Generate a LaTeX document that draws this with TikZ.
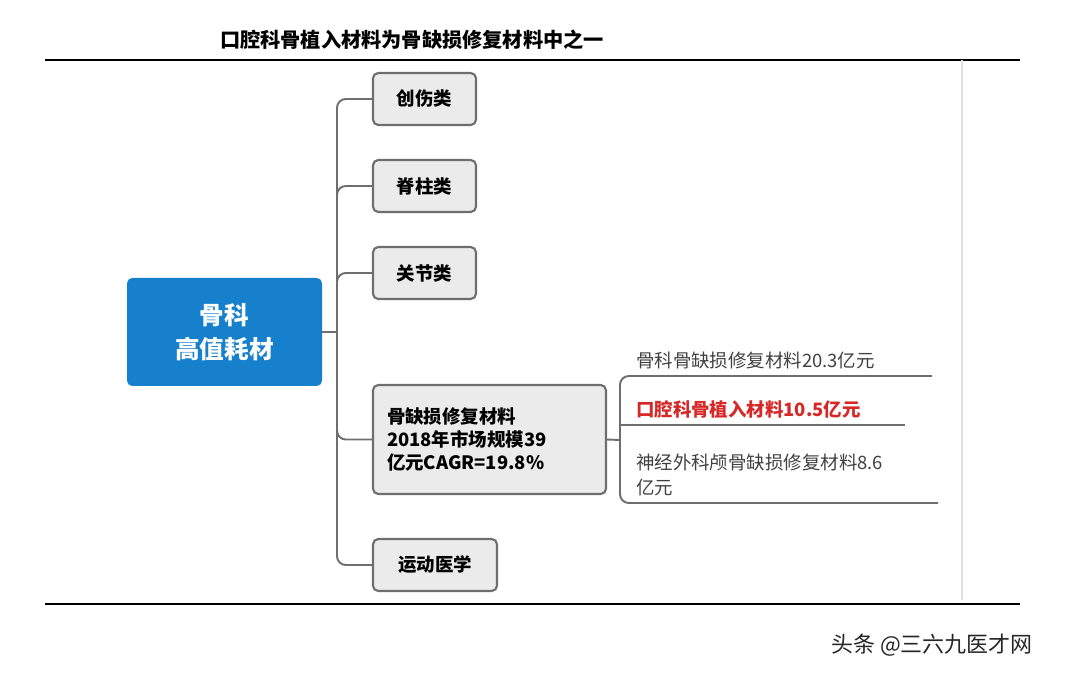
\documentclass[tikz,border=0pt]{standalone}
\usepackage{fontspec}
\setmainfont{Liberation Sans}
\newfontfamily\cjk{Noto Sans CJK SC}
\usetikzlibrary{positioning}
\definecolor{hubblue}{RGB}{22,128,204}
\definecolor{boxgray}{RGB}{235,235,235}
\definecolor{linegray}{RGB}{110,110,110}
\definecolor{keyred}{RGB}{215,40,40}
\tikzset{
  cat/.style={draw=linegray, fill=boxgray, line width=1.2pt, rounded corners=3pt,
    font=\cjk\fontsize{10.5}{13}\selectfont\bfseries, inner sep=0pt, align=left},
  link/.style={draw=linegray, line width=1.1pt, rounded corners=5pt},
  leaf/.style={font=\cjk\fontsize{10.5}{14}\selectfont, anchor=south west, align=left, inner sep=1pt}
}
\begin{document}
\begin{tikzpicture}[x=0.02cm, y=-0.02cm]
\useasboundingbox (0,0) rectangle (1078,678);

\node[font=\cjk\fontsize{11.5}{14}\selectfont\bfseries] (title) at (412,40) {口腔科骨植入材料为骨缺损修复材料中之一};
\draw[line width=1pt] (45,60) -- (1020,60);
\draw[line width=1pt] (45,604) -- (1020,604);
\draw[black!12, line width=0.8pt] (962,60) -- (962,600);

\node[fill=hubblue, rounded corners=3pt, minimum width=195*0.02cm, minimum height=108*0.02cm,
  text=white, font=\cjk\fontsize{14}{19}\selectfont\bfseries, align=center] (hub) at (224.5,332) {骨科\\高值耗材};

\node[cat, minimum width=103*0.02cm, minimum height=52*0.02cm] (trauma) at (424.5,99) {创伤类};
\node[cat, minimum width=103*0.02cm, minimum height=52*0.02cm] (spine) at (424.5,186) {脊柱类};
\node[cat, minimum width=103*0.02cm, minimum height=52*0.02cm] (joint) at (424.5,273) {关节类};
\node[cat, minimum width=233*0.02cm, minimum height=109*0.02cm, text width=205*0.02cm] (bone) at (489.5,439.5)
  {骨缺损修复材料\\2018年市场规模39\\亿元CAGR=19.8\%};
\node[cat, minimum width=124*0.02cm, minimum height=52*0.02cm] (sport) at (435,565) {运动医学};

% trunk
\coordinate (trunk) at (337,332);
\draw[link] (hub.east) -- (trunk);
\foreach \n in {trauma,spine,joint,bone,sport}
{
    \draw[link] (trunk) |- (\n.west);
}

% leaves
\coordinate (fork) at (620,440);
\draw[link] (bone.east) -- (fork);
\draw[link] (938,503) -- (620,503) -- (620,376) -- (932,376);
\draw[link] (fork |- 0,425) -- (905,425);

\node[leaf, text=black!75] (leafa) at (634,371) {骨科骨缺损修复材料20.3亿元};
\node[leaf, text=keyred, font=\cjk\fontsize{10.5}{14}\selectfont\bfseries] (leafb) at (634,420) {口腔科骨植入材料10.5亿元};
\node[leaf, text=black!75] (leafc) at (634,498) {神经外科颅骨缺损修复材料8.6\\亿元};

\node[font=\cjk\fontsize{12.5}{15}\selectfont, text=black!85] (mark) at (932,645) {头条 @三六九医才网};
\end{tikzpicture}
\end{document}
